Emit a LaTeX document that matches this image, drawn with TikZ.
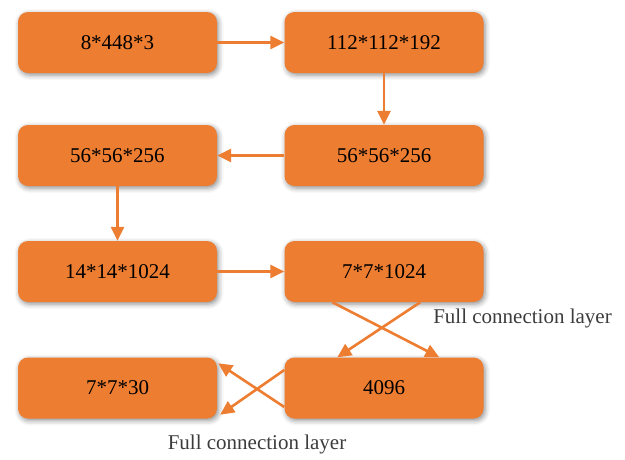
\documentclass[tikz,border=0pt]{standalone}
\usepackage{fontspec}
\setmainfont{Liberation Serif}
\usetikzlibrary{arrows.meta,shadows.blur}
\definecolor{boxorange}{HTML}{ED7D31}
\definecolor{labelgray}{HTML}{3C3C3C}
\tikzset{
  layerbox/.style={rectangle, rounded corners=10pt, fill=boxorange, draw=none,
    minimum width=199pt, minimum height=61pt, inner sep=0pt,
    font=\fontsize{21}{24}\selectfont, text=black,
    blur shadow={shadow xshift=1.5pt, shadow yshift=-2pt, shadow blur radius=5pt, shadow opacity=45}},
  flow/.style={draw=boxorange, line width=2.6pt,
    -{Triangle[length=14pt,width=13pt]}},
  fclabel/.style={font=\fontsize{21}{24}\selectfont, text=labelgray, inner sep=0pt}
}
\begin{document}
\begin{tikzpicture}[x=1pt,y=-1pt]
  \useasboundingbox (0,0) rectangle (625,459);
  % layer boxes
  \node[layerbox] (n1) at (117.5,42.5) {8*448*3};
  \node[layerbox] (n2) at (384,42.5) {112*112*192};
  \node[layerbox] (n3) at (384,155.5) {56*56*256};
  \node[layerbox] (n4) at (117.5,155.5) {56*56*256};
  \node[layerbox] (n5) at (117.5,271.5) {14*14*1024};
  \node[layerbox] (n6) at (384,271.5) {7*7*1024};
  \node[layerbox] (n7) at (117.5,388) {7*7*30};
  \node[layerbox] (n8) at (384,388) {4096};
  % straight connectors
  \draw[flow] (n1) -- (n2);
  \draw[flow] (n2) -- (n3);
  \draw[flow] (n3) -- (n4);
  \draw[flow] (n4) -- (n5);
  \draw[flow] (n5) -- (n6);
  % crossed fully connected links
  \draw[flow] ([xshift=48pt]n6.south west) -- ([xshift=155pt]n8.north west);
  \draw[flow] ([xshift=136pt]n6.south west) -- ([xshift=53pt]n8.north west);
  \draw[flow] ([yshift=18pt]n8.west) -- ([xshift=3pt,yshift=4pt]n7.south east);
  \draw[flow] ([yshift=-19pt]n8.west) -- ([xshift=1pt,yshift=-6pt]n7.north east);
  % labels
  \node[fclabel] (l1) at (522.5,318) {Full connection layer};
  \node[fclabel] (l2) at (257,444) {Full connection layer};
\end{tikzpicture}
\end{document}
